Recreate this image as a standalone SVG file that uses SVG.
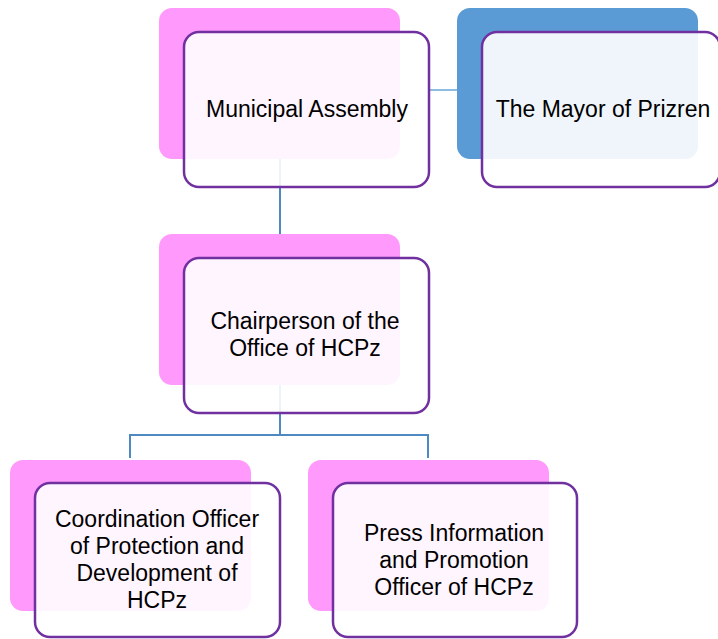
<svg xmlns="http://www.w3.org/2000/svg" width="718" height="639" viewBox="0 0 718 639">
<style>
.back{fill:#ff99fb}
.backblue{fill:#5b9bd5}
.front{fill:#ffffff;fill-opacity:0.9;stroke:#7030a0;stroke-width:2.5}
.conn{fill:none;stroke:#4f89c2;stroke-width:2}
.conn2{fill:none;stroke:#8dbde3;stroke-width:2}
text{font-family:"Liberation Sans",Arial,sans-serif;font-size:23px;fill:#000;text-anchor:middle}
</style>
<rect width="718" height="639" fill="#ffffff"/>
<g id="connectors">
<line class="conn2" x1="429" y1="90" x2="457" y2="90"/>
<line class="conn" x1="280" y1="159" x2="280" y2="234"/>
<polyline class="conn" points="280,385 280,435 130,435 130,458"/>
<polyline class="conn" points="280,435 428,435 428,458"/>
</g>
<g id="node-assembly">
<rect class="back" x="159" y="8" width="241" height="151" rx="13"/>
<rect class="front" x="184" y="32" width="245" height="155" rx="15"/>
<text x="307" y="117">Municipal Assembly</text>
</g>
<g id="node-mayor">
<rect class="backblue" x="457" y="8" width="241" height="151" rx="13"/>
<rect class="front" x="482" y="32" width="238" height="155" rx="15"/>
<text x="603" y="117">The Mayor of Prizren</text>
</g>
<g id="node-chair">
<rect class="back" x="159" y="234" width="241" height="151" rx="13"/>
<rect class="front" x="184" y="258" width="245" height="155" rx="15"/>
<text x="305" y="329">Chairperson of the</text>
<text x="305" y="356">Office of HCPz</text>
</g>
<g id="node-coordination">
<rect class="back" x="10" y="460" width="241" height="151" rx="13"/>
<rect class="front" x="35" y="483" width="245" height="154" rx="15"/>
<text x="157" y="527">Coordination Officer</text>
<text x="157" y="554">of Protection and</text>
<text x="157" y="581">Development of</text>
<text x="157" y="608">HCPz</text>
</g>
<g id="node-press">
<rect class="back" x="308" y="460" width="241" height="151" rx="13"/>
<rect class="front" x="333" y="483" width="244" height="154" rx="15"/>
<text x="454" y="541">Press Information</text>
<text x="454" y="568">and Promotion</text>
<text x="454" y="595">Officer of HCPz</text>
</g>
</svg>
